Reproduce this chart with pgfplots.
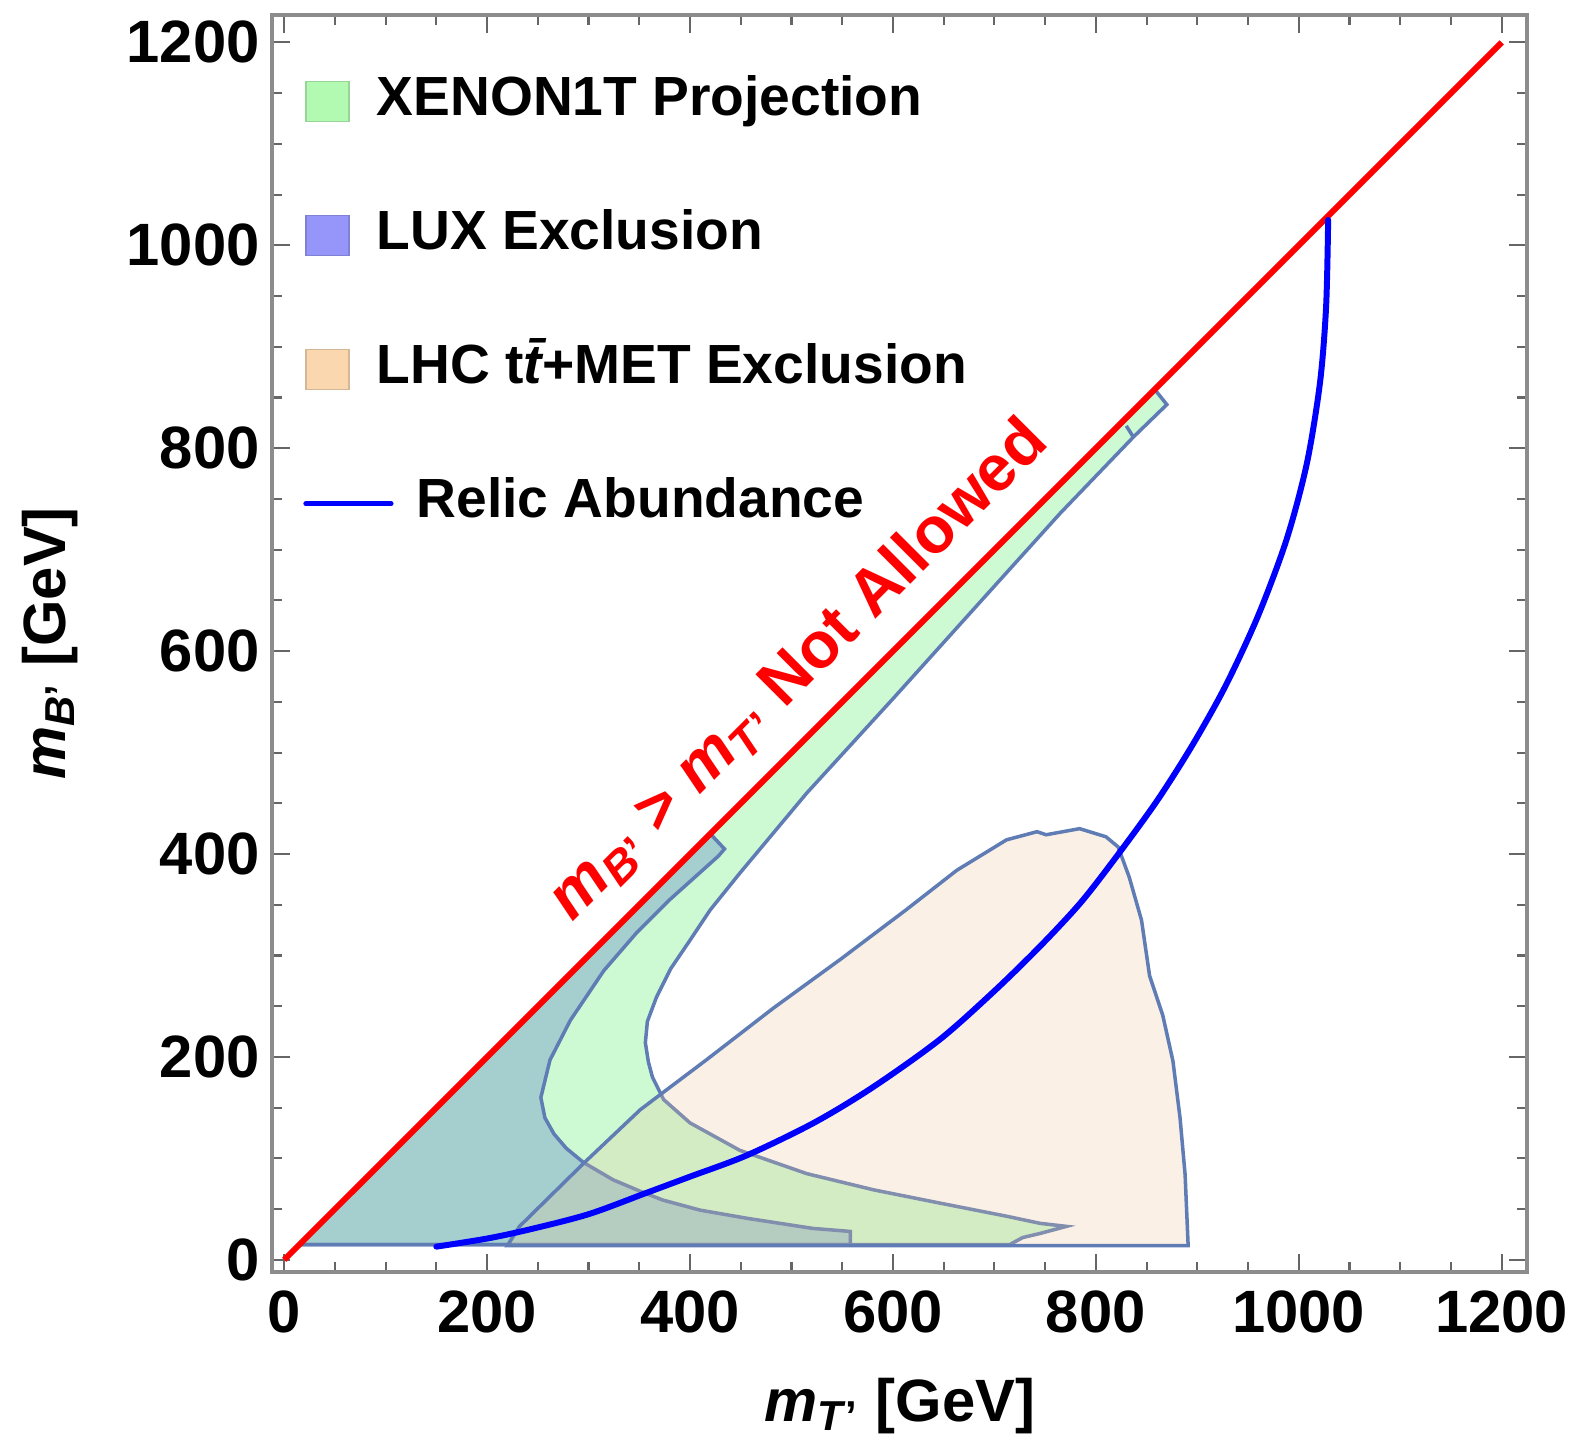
\documentclass[border=0pt]{standalone}
\usepackage{fontspec}
\setmainfont{Liberation Sans}
\usepackage{pgfplots}
\pgfplotsset{compat=1.18}

\definecolor{xenon}{RGB}{88,238,105}
\definecolor{lux}{RGB}{70,110,200}
\definecolor{lhc}{RGB}{235,195,155}
\definecolor{edge}{RGB}{95,125,180}
\definecolor{xenonkey}{RGB}{178,250,178}
\definecolor{luxkey}{RGB}{150,150,250}
\definecolor{lhckey}{RGB}{250,215,175}

\begin{document}
\begin{tikzpicture}
\begin{axis}[
    scale only axis, width=12.55cm, height=12.57cm,
    xmin=-12, xmax=1225, ymin=-12, ymax=1227,
    xtick={0,200,...,1200}, ytick={0,200,...,1200},
    minor tick num=3,
    major tick length=0.18cm, minor tick length=0.1cm,
    tick style={gray!80!black, line width=0.6pt},
    axis line style={gray!90, line width=1pt},
    tick label style={font=\fontsize{17}{20}\selectfont\bfseries},
    xticklabel style={yshift=-0.06cm},
    /pgf/number format/assume math mode=true,
    /pgf/number format/1000 sep={},
    xlabel={\textit{m}\textsubscript{\textit{T}'}~[GeV]},
    ylabel={\textit{m}\textsubscript{\textit{B}'}~[GeV]},
    every axis x label/.style={at={(axis description cs:0.5,-0.1066)}, anchor=center,
        font=\fontsize{17}{20}\selectfont\bfseries},
    every axis y label/.style={at={(axis description cs:-0.177,0.5)}, anchor=center, rotate=90,
        font=\fontsize{17}{20}\selectfont\bfseries},
    legend style={draw=none, fill=none, at={(axis description cs:0,1)}, anchor=north west,
        xshift=0.22cm, yshift=-0.53cm, font=\fontsize{15.7}{18}\selectfont\bfseries,
        row sep=0.82cm, column sep=0.27cm,
        nodes={inner sep=0pt, text height=0.4cm, text depth=0.12cm}},
    legend cell align=left,
]
% XENON1T projection
\addplot[draw=edge, line width=1pt, fill=xenon, fill opacity=0.3,
    legend image code/.code={\draw[draw=xenonkey!85!black, fill=xenonkey, fill opacity=1, line width=0.4pt] (0cm,-0.2cm) rectangle (0.43cm,0.2cm);}]
coordinates {
(15,15)(858,858)(870,843)(837,811)(765,736)(700,664)(600,553)(515,460)(449,381)
(420,345)(400,315)(381,287)(367,259)(358,235)(356,214)(359,195)(363,180)(374,158)
(400,135)(449,108)(515,85)(581,69)(646,56)(712,43)(745,36)(771,33)(745,26)(728,22)(715,15)
} -- cycle;
\addlegendentry{XENON1T Projection}
\addplot[draw=edge, line width=1pt, forget plot] coordinates {(830,822)(837,811)};
% LUX exclusion
\addplot[draw=edge, line width=1pt, fill=lux, fill opacity=0.3,
    legend image code/.code={\draw[draw=luxkey!85!black, fill=luxkey, fill opacity=1, line width=0.4pt] (0cm,-0.2cm) rectangle (0.43cm,0.2cm);}]
coordinates {
(15,15)(420,420)(434,405)(428,398)(380,355)(347,322)(315,285)(282,236)(262,197)
(253,160)(257,140)(266,124)(278,110)(295,96)(324,79)(350,68)(373,59)(410,49)
(456,41)(521,31)(558,28)(558,15)
} -- cycle;
\addlegendentry{LUX Exclusion}
% LHC ttbar+MET exclusion
\addplot[draw=edge, line width=1pt, fill=lhc, fill opacity=0.25,
    legend image code/.code={\draw[draw=lhckey!85!black, fill=lhckey, fill opacity=1, line width=0.4pt] (0cm,-0.2cm) rectangle (0.43cm,0.2cm);}]
coordinates {
(220,14)(232,33)(295,95)(351,148)(416,197)(482,248)(548,296)(613,345)(663,384)
(712,414)(742,422)(751,419)(784,425)(810,417)(822,407)(833,377)(845,335)(853,280)
(866,241)(876,196)(883,140)(888,84)(891,14)
} -- cycle;
\addlegendentry{LHC t{\itshape\=t}+MET Exclusion}
% kinematic boundary
\addplot[red, line width=1.7pt, forget plot] coordinates {(0,0)(1200,1200)};
% relic abundance
\addplot[blue, line width=1.7pt, smooth, line cap=round,
    legend image code/.code={\draw[overlay, blue, line width=1.5pt] (0cm,0cm) -- (0.85cm,0cm); \path[draw=none, fill=none] (0cm,-0.2cm) rectangle (0.43cm,0.2cm);}]
coordinates {
(150,13)(200,21)(242,30)(300,45)(357,66)(400,82)(456,103)(522,135)(580,170)
(646,217)(700,265)(745,309)(785,352)(820,397)(860,452)(895,507)(928,566)
(960,635)(988,710)(1008,785)(1021,865)(1027,940)(1029,1025)
};
\addlegendentry{\hspace{0.4cm}Relic Abundance}
\node[red, rotate=45, font=\fontsize{18.5}{22}\selectfont\bfseries] at (axis cs:507,581)
    {\textit{m}\textsubscript{\textit{B}'} > \textit{m}\textsubscript{\textit{T}'} Not Allowed};
\end{axis}
\pgfresetboundingbox
\path[use as bounding box] ([shift={(-2.72cm,-1.73cm)}]current axis.south west)
    rectangle ([shift={(0.53cm,0.15cm)}]current axis.north east);
\end{tikzpicture}
\end{document}
